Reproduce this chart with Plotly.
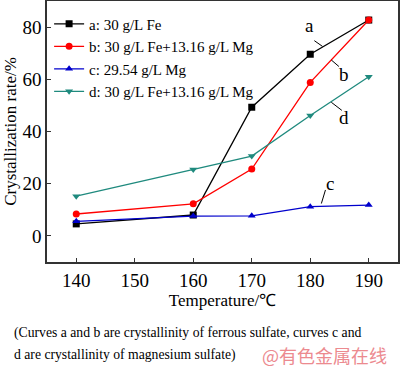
import plotly.graph_objects as go

temps = [140, 160, 170, 180, 190]
series_names = ["a: 30 g/L Fe", "b: 30 g/L Fe+13.16 g/L Mg", "c: 29.54 g/L Mg", "d: 30 g/L Fe+13.16 g/L Mg"]
a_vals = [4.6, 8.0, 49.3, 69.6, 82.7]
b_vals = [8.4, 12.3, 25.6, 58.8, 82.7]
c_vals = [5.6, 7.6, 7.7, 11.2, 11.8]
d_vals = [15.2, 25.4, 30.6, 46.1, 61.0]
colors = ["#000000", "#ff0000", "#0000cc", "#1f8a7e"]
symbols = ["square", "circle", "triangle-up", "triangle-down"]
x_ticks = [140, 150, 160, 170, 180, 190]
y_ticks = [0, 20, 40, 60, 80]

FONT = "Liberation Serif, Times New Roman, serif"

fig = go.Figure()
for name, vals, col, sym in zip(series_names, [a_vals, b_vals, c_vals, d_vals], colors, symbols):
    fig.add_trace(go.Scatter(
        x=temps, y=vals, name=name, mode="lines+markers",
        line=dict(color=col, width=1.3),
        marker=dict(symbol=sym, size=7, color=col),
    ))

# curve labels with leader lines: (text, text_x, text_y, line_x0, line_y0, line_x1, line_y1)
labels = [
    ("a", 179.8, 80.8, 180.7, 74.8, 182.1, 72.6),
    ("b", 185.8, 62.0, 183.6, 67.4, 184.9, 64.9),
    ("d", 185.8, 45.5, 183.6, 51.2, 185.4, 48.1),
    ("c", 183.3, 20.0, 182.6, 17.6, 181.9, 12.4),
]
for t, tx, ty, x0, y0, x1, y1 in labels:
    fig.add_annotation(x=tx, y=ty, text=t, showarrow=False,
                       font=dict(family=FONT, size=19, color="black"))
    fig.add_shape(type="line", x0=x0, y0=y0, x1=x1, y1=y1,
                  line=dict(color="black", width=1))

fig.add_annotation(
    x=-0.1, y=-0.272, xref="paper", yref="paper", xanchor="left", yanchor="middle",
    text="(Curves a and b are crystallinity of ferrous sulfate, curves c and",
    showarrow=False, font=dict(family=FONT, size=13.7, color="black"))
fig.add_annotation(
    x=-0.1, y=-0.356, xref="paper", yref="paper", xanchor="left", yanchor="middle",
    text="d are crystallinity of magnesium sulfate)",
    showarrow=False, font=dict(family=FONT, size=13.7, color="black"))
fig.add_annotation(
    x=0.792, y=-0.356, xref="paper", yref="paper", xanchor="center", yanchor="middle",
    text="@有色金属在线", showarrow=False,
    font=dict(family="Noto Sans CJK SC", size=18, color="#ec8a8f"))

fig.update_layout(
    width=400, height=370,
    margin=dict(l=47, r=2, t=1, b=108, autoexpand=False),
    paper_bgcolor="white", plot_bgcolor="white",
    font=dict(family=FONT, color="black"),
    showlegend=True,
    legend=dict(x=0.006, y=0.975, xanchor="left", yanchor="top",
                bgcolor="rgba(0,0,0,0)", font=dict(family=FONT, size=15),
                tracegroupgap=0, itemwidth=30),
)
fig.update_xaxes(
    range=[135, 195], tickvals=x_ticks, ticks="inside", ticklen=4, tickcolor="#333",
    showline=True, linecolor="#333", linewidth=1.5, mirror=True, showgrid=False, zeroline=False,
    automargin=False,
    tickfont=dict(family=FONT, size=19, color="black"),
    title=dict(text="Temperature/℃", font=dict(family=FONT, size=17, color="black"), standoff=4),
)
fig.update_yaxes(
    range=[-10, 90], tickvals=y_ticks, ticks="inside", ticklen=4, tickcolor="#333",
    showline=True, linecolor="#333", linewidth=1.5, mirror=True, showgrid=False, zeroline=False,
    automargin=False,
    tickfont=dict(family=FONT, size=19, color="black"),
    title=dict(text="Crystallization rate/%", font=dict(family=FONT, size=17, color="black"), standoff=2),
)

fig.write_html("out.html", config={"displayModeBar": False},
               post_script="document.body.style.margin='0';document.body.style.overflow='hidden';")
